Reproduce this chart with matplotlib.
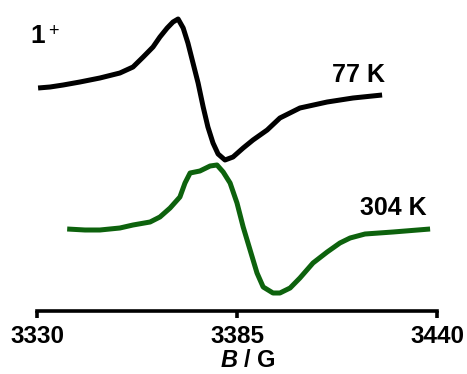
import matplotlib
matplotlib.use("Agg")
import matplotlib.pyplot as plt

plt.rcParams['font.family'] = ['Liberation Sans', 'DejaVu Sans']
plt.rcParams['mathtext.fontset'] = 'custom'
plt.rcParams['mathtext.it'] = 'Liberation Sans:italic:bold'

# 77 K spectrum (field in G, signal in arbitrary units)
field_77 = [3330.3, 3333.6, 3337.2, 3341.8, 3347.3, 3352.8, 3356.4, 3359.2,
            3361.9, 3363.8, 3365.8, 3367.4, 3368.8, 3370.2, 3371.5, 3372.9,
            3374.3, 3375.7, 3377.0, 3378.4, 3379.8, 3381.7, 3383.9, 3386.7,
            3389.4, 3393.3, 3396.8, 3402.3, 3409.8, 3416.9, 3424.9]
signal_77 = [223, 224, 226, 229, 233, 238, 244, 254,
             264, 274, 283, 289, 292, 283, 268, 248,
             228, 204, 184, 168, 157, 151, 154, 163,
             171, 181, 193, 203, 209, 213, 216]

# 304 K spectrum
field_304 = [3338.3, 3343.2, 3347.3, 3352.8, 3356.4, 3361.1, 3363.8, 3366.6,
             3369.3, 3370.7, 3372.1, 3374.8, 3377.6, 3379.5, 3381.2, 3383.1,
             3385.0, 3386.7, 3388.6, 3390.5, 3392.2, 3394.9, 3396.8, 3399.6,
             3402.3, 3405.9, 3409.8, 3413.3, 3416.1, 3420.2, 3427.9, 3438.1]
signal_304 = [82, 81, 81, 83, 86, 89, 94, 103,
              114, 128, 138, 140, 145, 146, 139, 128,
              108, 84, 61, 38, 24, 18, 18, 23,
              33, 48, 59, 68, 73, 77, 79, 82]

ticks = [3330, 3385, 3440]

fig = plt.figure(figsize=(4.67, 3.74), dpi=100)
ax = fig.add_axes([37 / 467, 63 / 374, 400 / 467, 311 / 374])

ax.plot(field_77, signal_77, color='black', lw=3.6,
        solid_joinstyle='round', solid_capstyle='butt')
ax.plot(field_304, signal_304, color='#0d620d', lw=3.6,
        solid_joinstyle='round', solid_capstyle='butt')

ax.set_xlim(3330, 3440)
ax.set_ylim(0, 311)
for s in ['left', 'right', 'top']:
    ax.spines[s].set_visible(False)
ax.spines['bottom'].set_linewidth(2.6)
ax.set_yticks([])
ax.set_xticks(ticks)
ax.set_xticklabels([str(t) for t in ticks], fontsize=17.5, fontweight='bold')
ax.tick_params(axis='x', direction='out', length=5, width=2.6, pad=5)

fig.text(248 / 467, (374 - 367) / 374, r'$\mathit{B}$ / G', fontsize=17,
         fontweight='bold', ha='center', va='baseline')

ax.text(3411.1, 229, '77 K', fontsize=18, fontweight='bold', va='baseline')
ax.text(3418.8, 96, '304 K', fontsize=18, fontweight='bold', va='baseline')
ax.text(3328.1, 268, '1', fontsize=19, fontweight='bold', va='baseline',
        clip_on=False)
ax.text(3333.0, 279, '+', fontsize=13, va='center', clip_on=False)

fig.savefig('out.png', dpi=100)
